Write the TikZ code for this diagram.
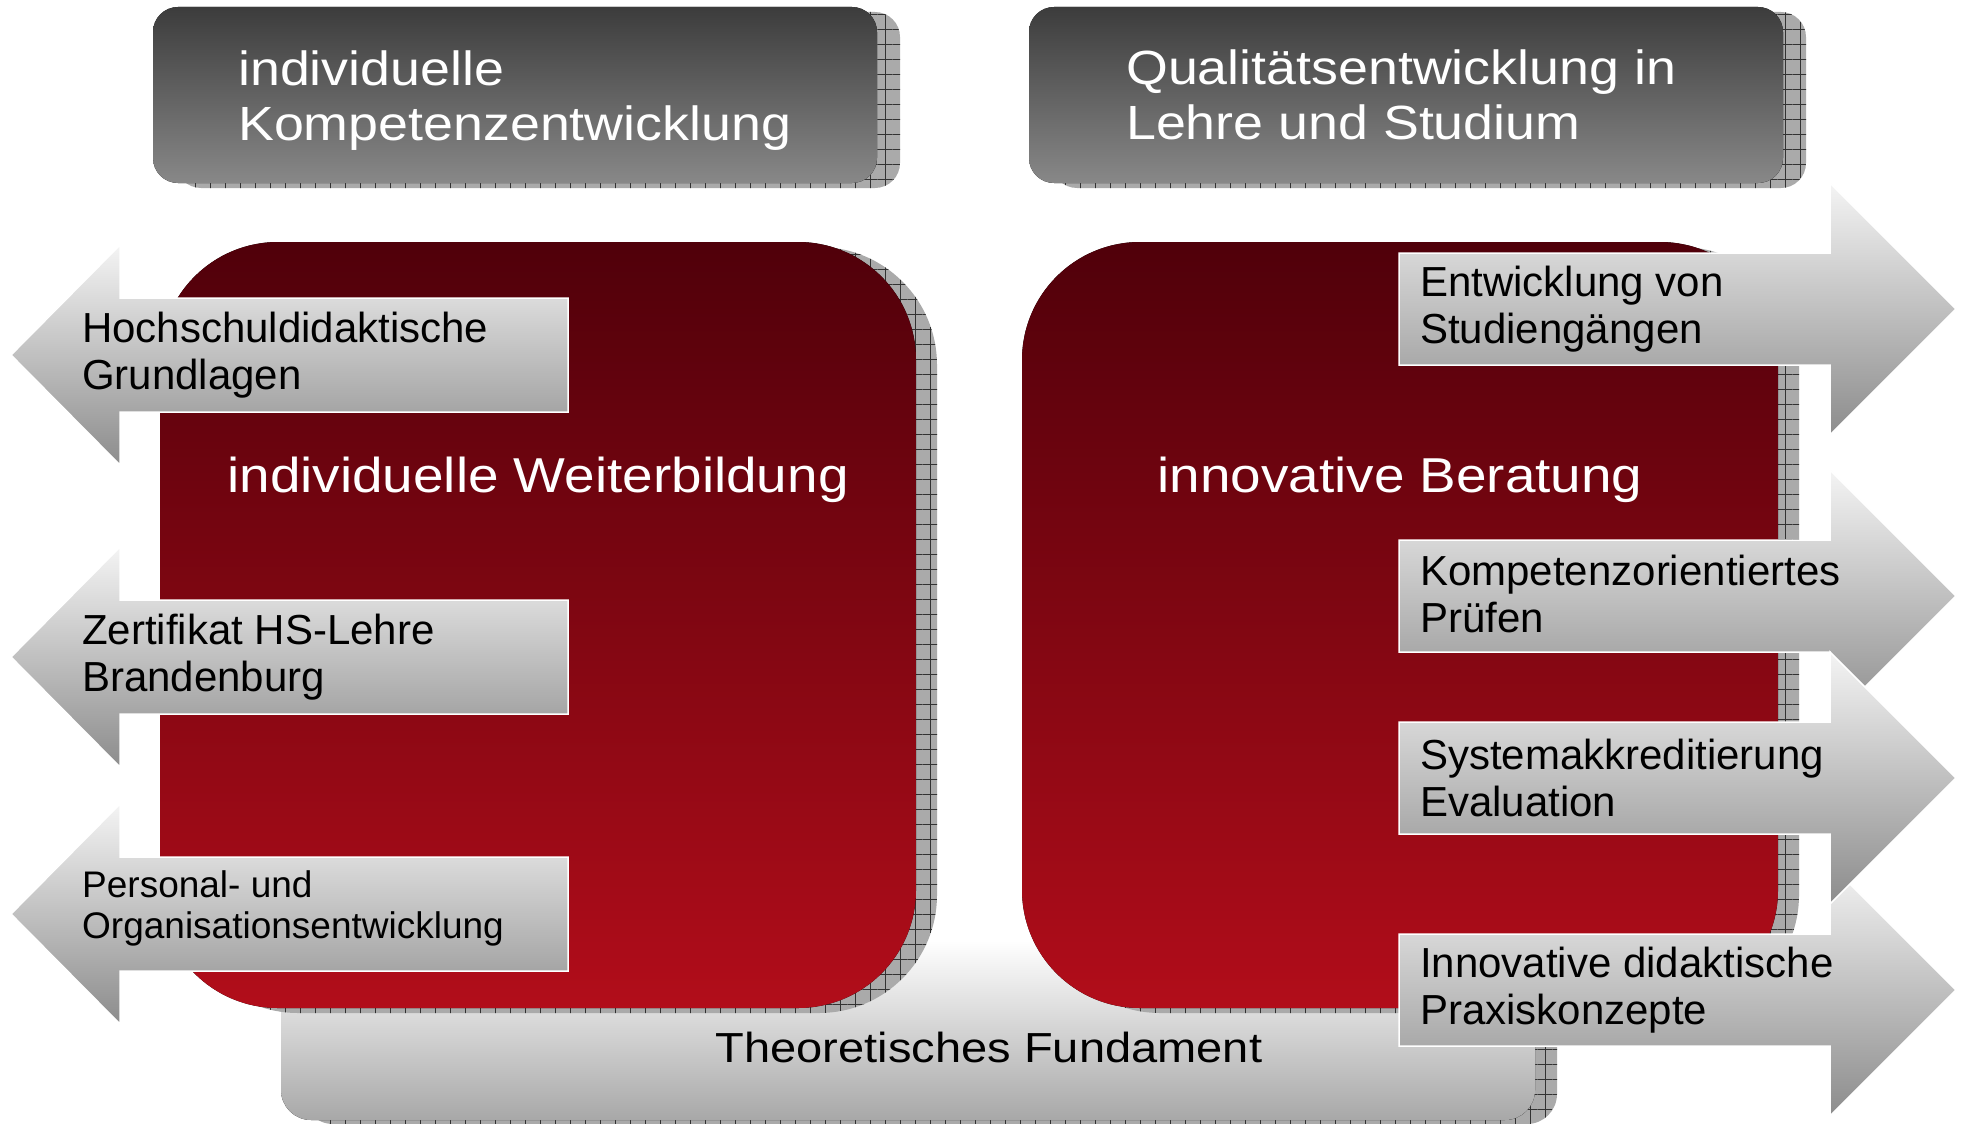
\documentclass[tikz,border=0pt]{standalone}
\usepackage{fontspec}
\setmainfont{Liberation Sans}
\newfontfamily\widefont[FakeStretch=1.12]{Liberation Sans}
\usetikzlibrary{patterns.meta}

\definecolor{redtop}{RGB}{80,0,10}
\definecolor{redbottom}{RGB}{178,13,26}
\definecolor{greytop}{RGB}{60,60,60}
\definecolor{greybottom}{RGB}{136,136,136}
\definecolor{arrowtop}{RGB}{244,244,244}
\definecolor{arrowbottom}{RGB}{140,140,140}
\definecolor{bartop}{RGB}{255,255,255}
\definecolor{barbottom}{RGB}{168,168,168}
\definecolor{shadowgrey}{RGB}{170,170,170}
\definecolor{gridgrey}{RGB}{50,50,50}

\tikzset{
    hatchshadow/.style={preaction={fill=shadowgrey},pattern={Hatch[angle=0,distance=15pt,line width=0.8pt]},pattern color=gridgrey},
    headbox/.style={rounded corners=25pt,top color=greytop,bottom color=greybottom},
    redbox/.style={rounded corners=118pt,top color=redtop,bottom color=redbottom},
    arrowbox/.style={draw=white,line width=1.5pt,top color=arrowtop,bottom color=arrowbottom},
    whitetext/.style={text=white,inner sep=0pt,font=\widefont\fontsize{49}{55}\selectfont},
    itemtext/.style={inner sep=0pt,align=left,anchor=west,font=\fontsize{42}{47}\selectfont}
}

\begin{document}
\begin{tikzpicture}[x=1pt,y=-1pt]
        \useasboundingbox(0,0)rectangle(1963,1124);

        \fill[hatchshadow,rounded corners=30pt](303,944)rectangle(1557,1124);
        \fill[top color=bartop,bottom color=barbottom,rounded corners=30pt](281,940)rectangle(1535,1120);

        \fill[hatchshadow,rounded corners=25pt](176,12)rectangle(900,188);
        \fill[hatchshadow,rounded corners=25pt](1052,12)rectangle(1806,188);
        \fill[headbox](153,7)rectangle(877,183);
        \fill[headbox](1029,7)rectangle(1783,183);

        \fill[hatchshadow,rounded corners=118pt](180,247)rectangle(937,1013);
        \fill[hatchshadow,rounded corners=118pt](1042,247)rectangle(1799,1013);
        \fill[redbox](160,242)rectangle(916,1008);
        \fill[redbox](1022,242)rectangle(1778,1008);

        \foreach \m in {355,657,914}
            \draw[arrowbox](11,\m)--(120,{\m-110})--(120,{\m-57})--(568,{\m-57})--(568,{\m+57})--(120,{\m+57})--(120,{\m+110})--cycle;
        \foreach \m in {309,596,990,778}
            \draw[arrowbox](1956,\m)--(1830,{\m-126})--(1830,{\m-56})--(1399,{\m-56})--(1399,{\m+56})--(1830,{\m+56})--(1830,{\m+126})--cycle;

        \node[whitetext,align=left,anchor=west,font=\widefont\fontsize{48}{55}\selectfont](kompetenz)at(238,101){individuelle\\Kompetenzentwicklung};
        \node[whitetext,align=left,anchor=west,font=\widefont\fontsize{48}{55}\selectfont](qualitaet)at(1126,95){Qualitätsentwicklung in\\Lehre und Studium};
        \node[whitetext,anchor=base](weiterbildung)at(538,492){individuelle Weiterbildung};
        \node[whitetext,anchor=base](beratung)at(1400,492){innovative Beratung};
        \node[inner sep=0pt,anchor=base,font=\widefont\fontsize{42}{47}\selectfont](fundament)at(989,1062){Theoretisches Fundament};

        \node[itemtext](grundlagen)at(82,355){Hochschuldidaktische\\Grundlagen};
        \node[itemtext](zertifikat)at(82,657){Zertifikat HS-Lehre\\Brandenburg};
        \node[itemtext,font=\fontsize{37}{41}\selectfont](personal)at(82,908){Personal- und\\Organisationsentwicklung};

        \node[itemtext](studiengaenge)at(1420,309){Entwicklung von\\Studiengängen};
        \node[itemtext](pruefen)at(1420,594){Kompetenzorientiertes\\Prüfen};
        \node[itemtext](evaluation)at(1420,778){Systemakkreditierung\\Evaluation};
        \node[itemtext](praxis)at(1420,990){Innovative didaktische\\Praxiskonzepte};
    \end{tikzpicture}
\end{document}
